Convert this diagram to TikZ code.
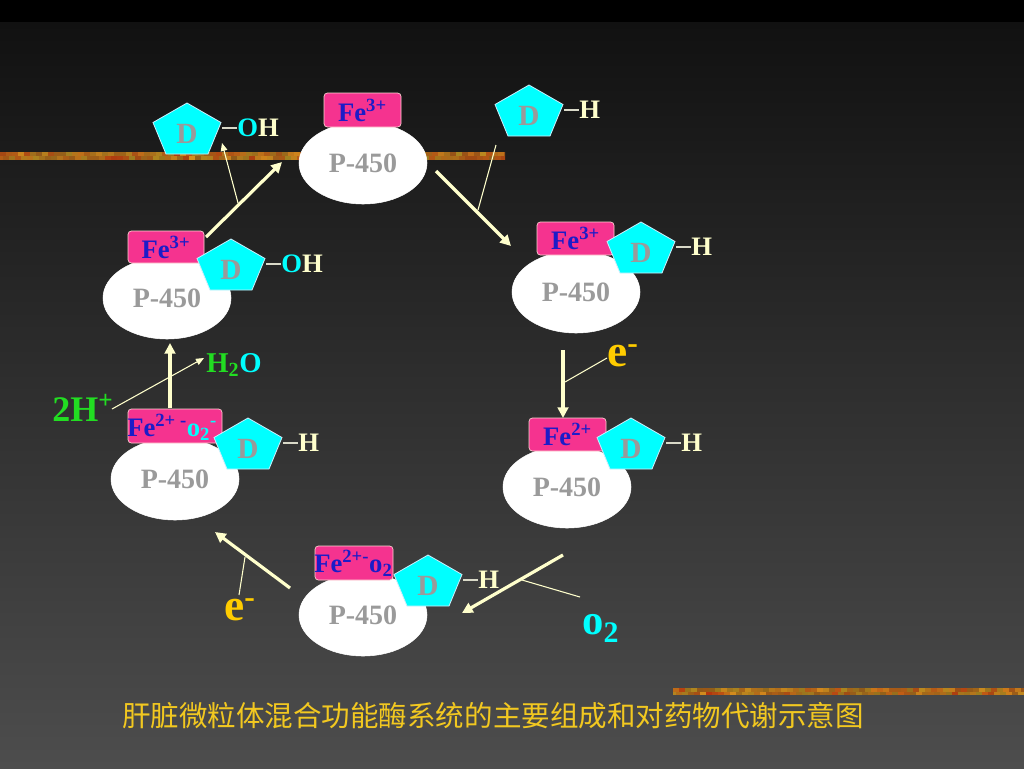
\documentclass[tikz,border=0pt]{standalone}
\usepackage{fontspec}
\setmainfont{Liberation Serif}
\newfontfamily\cjk{Noto Sans CJK SC}
\usetikzlibrary{arrows.meta,shapes.geometric}
\definecolor{bgtop}{HTML}{111111}
\definecolor{bgbot}{HTML}{4D4D4D}
\definecolor{fepink}{HTML}{F5338F}
\definecolor{feblue}{HTML}{1C1CC8}
\definecolor{dcyan}{HTML}{00FFFF}
\definecolor{dgrey}{HTML}{9A9A9A}
\definecolor{cream}{HTML}{FFFFCC}
\definecolor{bondc}{HTML}{D9D9C8}
\definecolor{hgreen}{HTML}{22DD22}
\definecolor{eyellow}{HTML}{FFCC00}
\definecolor{capyellow}{HTML}{F2C820}
\definecolor{barA}{HTML}{D89A20}
\definecolor{barB}{HTML}{B02A0C}
\definecolor{barC}{HTML}{7A7420}
\tikzset{
 enz/.style={ellipse, fill=white, draw=white, minimum width=128*0.75pt, minimum height=82*0.75pt, inner sep=0pt, text=dgrey, font=\fontsize{21}{24}\selectfont\bfseries},
 febox/.style={rectangle, rounded corners=2.5pt, fill=fepink, draw=pink!70!white, line width=0.5pt, inner sep=0pt, text=feblue, font=\fontsize{20}{22}\selectfont\bfseries},
 fetext/.style={inner sep=0pt, anchor=west, text=feblue, font=\fontsize{20}{22}\selectfont\bfseries},
 pentshape/.style={fill=dcyan, draw=white!80!cyan, line width=0.6pt, line join=miter},
 dtext/.style={inner sep=0pt, text=dgrey, font=\fontsize{22}{24}\selectfont\bfseries},
 sublabel/.style={inner sep=0pt, anchor=west, text=cream, font=\fontsize{20}{22}\selectfont\bfseries},
 bond/.style={draw=bondc, line width=1.2pt},
 bigarrow/.style={draw=cream, line width=2.4pt, -{Triangle[length=8pt,width=8pt]}},
 thinarrow/.style={draw=cream, line width=0.8pt, -{Triangle[length=6pt,width=5pt]}},
 leader/.style={draw=cream, line width=0.8pt},
 elabel/.style={inner sep=0pt, anchor=base west, text=eyellow, font=\fontsize{34}{36}\selectfont\bfseries},
 glabel/.style={inner sep=0pt, anchor=base west, font=\fontsize{27}{30}\selectfont\bfseries},
 wlabel/.style={inner sep=0pt, anchor=base west, font=\fontsize{21.5}{24}\selectfont\bfseries},
 olabel/.style={inner sep=0pt, anchor=base west, text=dcyan, font=\fontsize{32}{34}\selectfont\bfseries},
 captiontext/.style={inner sep=0pt, text=capyellow, font=\cjk\fontsize{21.4}{24}\selectfont},
}
\newcommand\drugD[5]{%
 \begin{scope}[shift={(#1,#2)}]
  \path[pentshape] (34,0) -- (68,19.5) -- (55,51) -- (13,51) -- (0,19.5) -- cycle;
  \node[dtext] (#3) at (34,31) {D};
  \node[sublabel] (#4) at (84,25) {#5};
  \draw[bond] (69,25) -- (#4.west);
 \end{scope}}
\begin{document}
\begin{tikzpicture}[x=0.75pt,y=-0.75pt]
\useasboundingbox (0,0) rectangle (1024,768);
\fill[black] (0,0) rectangle (1024,768);
\shade[top color=bgtop, bottom color=bgbot] (0,22) rectangle (1024,768);
% decorative bars
\pgfmathsetseed{11}
\begin{scope}
\clip (0,152) rectangle (505,160);
\foreach \i in {-1,...,84}{
  \pgfmathtruncatemacro\pa{10+85*rnd}
  \pgfmathtruncatemacro\pb{40+60*rnd}
  \fill[barA!\pa!barB!\pb!barC] (\i*6,152) rectangle (\i*6+6.4,156.2);
  \pgfmathtruncatemacro\pa{10+85*rnd}
  \pgfmathtruncatemacro\pb{40+60*rnd}
  \fill[barA!\pa!barB!\pb!barC] (\i*6+3,156) rectangle (\i*6+9.4,160);
}
\end{scope}
\begin{scope}
\clip (673,688) rectangle (1024,695);
\foreach \i in {-1,...,59}{
  \pgfmathtruncatemacro\pa{10+85*rnd}
  \pgfmathtruncatemacro\pb{40+60*rnd}
  \fill[barA!\pa!barB!\pb!barC] (673+\i*6,688) rectangle (673+\i*6+6.4,691.7);
  \pgfmathtruncatemacro\pa{10+85*rnd}
  \pgfmathtruncatemacro\pb{40+60*rnd}
  \fill[barA!\pa!barB!\pb!barC] (676+\i*6,691.5) rectangle (676+\i*6+6.4,695);
}
\end{scope}
% enzymes
\node[enz] (e1) at (363,163) {P-450};
\node[enz] (e2) at (576,292) {P-450};
\node[enz] (e3) at (567,487) {P-450};
\node[enz] (e4) at (363,615) {P-450};
\node[enz] (e5) at (175,479) {P-450};
\node[enz] (e6) at (167,298) {P-450};
% iron boxes
\node[febox, minimum width=77*0.75pt, minimum height=34*0.75pt] (b1) at (362.5,110) {Fe\textsuperscript{3+}};
\node[febox, minimum width=77*0.75pt, minimum height=33*0.75pt] (b2) at (575.5,238.5) {Fe\textsuperscript{3+}};
\node[febox, minimum width=77*0.75pt, minimum height=33*0.75pt] (b3) at (567.5,434.5) {Fe\textsuperscript{2+}};
\node[febox, minimum width=78*0.75pt, minimum height=34*0.75pt] (b4) at (354,563) {};
\node[fetext] (t4) at (314,563) {Fe\textsuperscript{2+-}o\textsubscript{2}};
\node[febox, minimum width=94*0.75pt, minimum height=34*0.75pt] (b5) at (175,426) {};
\node[fetext] (t5) at (127,427) {Fe\textsuperscript{2+ -}\textcolor{dcyan}{o\textsubscript{2}\textsuperscript{-}}};
\node[febox, minimum width=76*0.75pt, minimum height=32*0.75pt] (b6) at (166,247) {Fe\textsuperscript{3+}};
% drug pentagons
\drugD{153}{103}{d0}{l0}{\textcolor{dcyan}{O}H}
\drugD{495}{85}{d1}{l1}{H}
\drugD{607}{222}{d2}{l2}{H}
\drugD{597}{418}{d3}{l3}{H}
\drugD{394}{555}{d4}{l4}{H}
\drugD{214}{418}{d5}{l5}{H}
\drugD{197}{239}{d6}{l6}{\textcolor{dcyan}{O}H}
% arrow end points
\coordinate (a1s) at (206,237); \coordinate (a1e) at (282,162);
\coordinate (a2s) at (436,171); \coordinate (a2e) at (511,246);
\coordinate (a3s) at (563,350); \coordinate (a3e) at (563,418);
\coordinate (a4s) at (563,555); \coordinate (a4e) at (462,613);
\coordinate (a5s) at (290,588); \coordinate (a5e) at (215,532);
\coordinate (a6s) at (170,408); \coordinate (a6e) at (170,343);
\coordinate (t1s) at (238,203); \coordinate (t1e) at (222,143);
\coordinate (t2s) at (496,145); \coordinate (t2e) at (478,210);
\coordinate (t3s) at (565,382); \coordinate (t3e) at (607,358);
\coordinate (t4s) at (580,597); \coordinate (t4e) at (522,580);
\coordinate (t5s) at (245,557); \coordinate (t5e) at (239,595);
\coordinate (t6s) at (112,409); \coordinate (t6e) at (204,358);
\draw[bigarrow] (a1s) -- (a1e);
\draw[bigarrow] (a2s) -- (a2e);
\draw[bigarrow] (a3s) -- (a3e);
\draw[bigarrow] (a4s) -- (a4e);
\draw[bigarrow] (a5s) -- (a5e);
\draw[bigarrow] (a6s) -- (a6e);
\draw[thinarrow] (t1s) -- (t1e);
\draw[leader] (t2s) -- (t2e);
\draw[leader] (t3s) -- (t3e);
\draw[leader] (t4s) -- (t4e);
\draw[leader] (t5s) -- (t5e);
\draw[thinarrow] (t6s) -- (t6e);
% labels
\node[elabel] (eR) at (607,366) {e\textsuperscript{-}};
\node[elabel] (eL) at (224,620) {e\textsuperscript{-}};
\node[olabel] (o2) at (582,634) {o\textsubscript{2}};
\node[glabel, text=hgreen] (hplus) at (52,421) {2H\textsuperscript{+}};
\node[wlabel] (water) at (206,372) {\textcolor{hgreen}{H\textsubscript{2}}\textcolor{dcyan}{O}};
\node[captiontext] (cap) at (493,716) {肝脏微粒体混合功能酶系统的主要组成和对药物代谢示意图};
\end{tikzpicture}
\end{document}
